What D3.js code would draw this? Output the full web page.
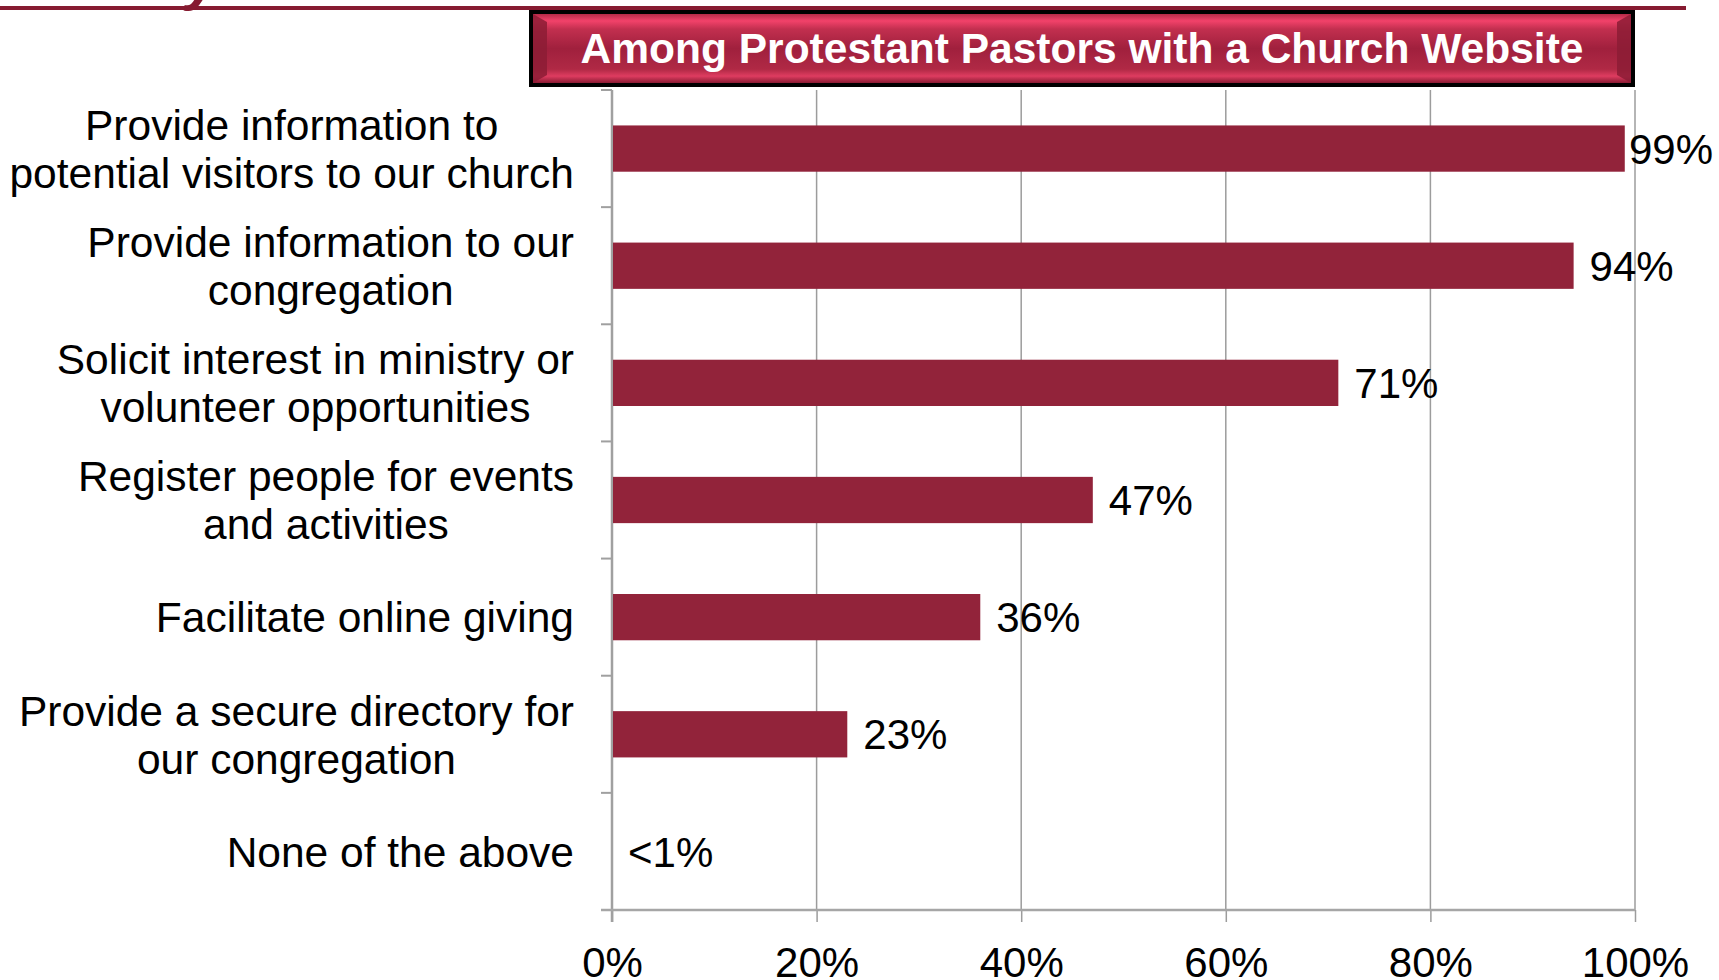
<!DOCTYPE html>
<html>
<head>
<meta charset="utf-8">
<script src="https://cdn.jsdelivr.net/npm/d3@7"></script>
<style>
  body { margin: 0; background: #fff; }
  svg { display: block; font-family: "Liberation Sans", Arial, sans-serif; }
</style>
</head>
<body>
<svg id="chart"></svg>
<script>
// chart data
var categories = [
    "Provide information to\npotential visitors to our church",
    "Provide information to our\ncongregation",
    "Solicit interest in ministry or\nvolunteer opportunities",
    "Register people for events\nand activities",
    "Facilitate online giving",
    "Provide a secure directory for\nour congregation",
    "None of the above"
];
var values = [99, 94, 71, 47, 36, 23, 0];
var valueLabels = ["99%", "94%", "71%", "47%", "36%", "23%", "<1%"];
var xTicks = [0, 20, 40, 60, 80, 100];
var title = "Among Protestant Pastors with a Church Website";

var W = 1719, H = 980;
var margin = {top: 90, right: 84, bottom: 70, left: 612};

var svg = d3.select('#chart')
    .attr('width', W)
    .attr('height', H);

var data = categories.map(function (c, i) {
    return {cat: c, value: values[i], label: valueLabels[i]};
});

var x = d3.scaleLinear()
    .domain([0, 100])
    .range([margin.left, W - margin.right]);

var y = d3.scaleBand()
    .domain(categories)
    .range([margin.top, H - margin.bottom])
    .padding(0);

var barH = y.bandwidth() * 0.395;

// top rule + cut-off logo piece
svg.append('rect')
    .attr('x', 0).attr('y', 6)
    .attr('width', 1686).attr('height', 4)
    .attr('fill', '#861b31');
svg.append('text')
    .attr('x', 186).attr('y', -1)
    .attr('font-size', 58)
    .attr('font-weight', 'bold')
    .attr('font-style', 'italic')
    .attr('fill', '#861b31')
    .text('y');

// title box
var defs = svg.append('defs');
var grad = defs.append('linearGradient')
    .attr('id', 'titleGrad')
    .attr('x1', 0).attr('y1', 0).attr('x2', 0).attr('y2', 1);
[[0, '#b42a47'], [0.1, '#f2426a'], [0.22, '#c22f4f'], [0.5, '#a0203d'],
 [0.8, '#b02945'], [0.9, '#de3c60'], [1, '#8a1b33']].forEach(function (s) {
    grad.append('stop').attr('offset', s[0]).attr('stop-color', s[1]);
});

var tb = {x0: 529, x1: 1635, y0: 10, y1: 87};
svg.append('rect')
    .attr('x', tb.x0).attr('y', tb.y0)
    .attr('width', tb.x1 - tb.x0).attr('height', tb.y1 - tb.y0)
    .attr('fill', '#000');
svg.append('rect')
    .attr('x', tb.x0 + 4).attr('y', tb.y0 + 4)
    .attr('width', tb.x1 - tb.x0 - 8).attr('height', tb.y1 - tb.y0 - 8)
    .attr('fill', 'url(#titleGrad)');
// side bevels
var bx = 14;
svg.append('polygon')
    .attr('points', [[tb.x0 + 4, tb.y0 + 4], [tb.x0 + 4 + bx, tb.y0 + 12], [tb.x0 + 4 + bx, tb.y1 - 12], [tb.x0 + 4, tb.y1 - 4]].join(' '))
    .attr('fill', '#8c1c35').attr('opacity', 0.85);
svg.append('polygon')
    .attr('points', [[tb.x1 - 4, tb.y0 + 4], [tb.x1 - 4 - bx, tb.y0 + 12], [tb.x1 - 4 - bx, tb.y1 - 12], [tb.x1 - 4, tb.y1 - 4]].join(' '))
    .attr('fill', '#8c1c35').attr('opacity', 0.85);
svg.append('text')
    .attr('x', (tb.x0 + tb.x1) / 2)
    .attr('y', 63)
    .attr('text-anchor', 'middle')
    .attr('font-size', 42.5)
    .attr('font-weight', 'bold')
    .attr('fill', '#fff')
    .text(title);

// gridlines
svg.append('g')
    .selectAll('line')
    .data(xTicks.slice(1))
    .enter()
    .append('line')
    .attr('x1', function (d) { return x(d); })
    .attr('x2', function (d) { return x(d); })
    .attr('y1', margin.top)
    .attr('y2', H - margin.bottom)
    .attr('stroke', '#9c9c9c')
    .attr('stroke-width', 1.5);

// x axis
var xAxis = d3.axisBottom(x)
    .tickValues(xTicks)
    .tickSize(12)
    .tickFormat(function (d) { return d + '%'; });
var gx = svg.append('g')
    .attr('transform', 'translate(0,' + (H - margin.bottom) + ')')
    .call(xAxis);
gx.select('.domain').remove();
gx.selectAll('line').attr('stroke', '#9c9c9c').attr('stroke-width', 1.5);
gx.selectAll('text')
    .attr('y', 67)
    .attr('dy', 0)
    .attr('font-size', 42)
    .attr('font-family', '"Liberation Sans", Arial, sans-serif')
    .attr('fill', '#000');

// y axis with ticks at band boundaries
var yEdges = categories.map(function (c) { return y(c); }).concat([y.range()[1]]);
svg.append('g')
    .selectAll('line')
    .data(yEdges)
    .enter()
    .append('line')
    .attr('x1', margin.left - 11)
    .attr('x2', margin.left)
    .attr('y1', function (d) { return d; })
    .attr('y2', function (d) { return d; })
    .attr('stroke', '#a0a0a0')
    .attr('stroke-width', 2);
svg.append('line')
    .attr('x1', margin.left).attr('x2', margin.left)
    .attr('y1', margin.top).attr('y2', H - margin.bottom + 12)
    .attr('stroke', '#a0a0a0').attr('stroke-width', 2.5);
svg.append('line')
    .attr('x1', margin.left - 11).attr('x2', x(100))
    .attr('y1', H - margin.bottom).attr('y2', H - margin.bottom)
    .attr('stroke', '#a6a6a6').attr('stroke-width', 2.5);

// bars
svg.append('g')
    .selectAll('rect')
    .data(data)
    .enter()
    .append('rect')
    .attr('x', x(0) + 1)
    .attr('y', function (d) { return y(d.cat) + (y.bandwidth() - barH) / 2; })
    .attr('width', function (d) { return Math.max(0, x(d.value) - x(0) - 1); })
    .attr('height', barH)
    .attr('fill', '#92233a');

// value labels
svg.append('g')
    .selectAll('text')
    .data(data)
    .enter()
    .append('text')
    .attr('y', function (d) { return y(d.cat) + y.bandwidth() / 2; })
    .attr('dy', '0.36em')
    .attr('font-size', 42)
    .attr('fill', '#000')
    .text(function (d) { return d.label; })
    .attr('x', function (d) {
        var w = this.getComputedTextLength();
        return Math.min(x(d.value) + 16, W - 6 - w);
    });

// category labels (lines centred on each other, block right aligned)
var labelRight = 574;
var lineH = 48;
categories.forEach(function (c) {
    var lines = c.split('\n');
    var g = svg.append('g');
    var texts = lines.map(function (l, i) {
        return g.append('text')
            .attr('font-size', 42.5)
            .attr('fill', '#000')
            .attr('text-anchor', 'middle')
            .attr('dy', '0.36em')
            .attr('y', y(c) + y.bandwidth() / 2 + (i - (lines.length - 1) / 2) * lineH)
            .text(l);
    });
    var maxW = d3.max(texts, function (t) { return t.node().getComputedTextLength(); });
    texts.forEach(function (t) { t.attr('x', labelRight - maxW / 2); });
});
</script>
</body>
</html>
